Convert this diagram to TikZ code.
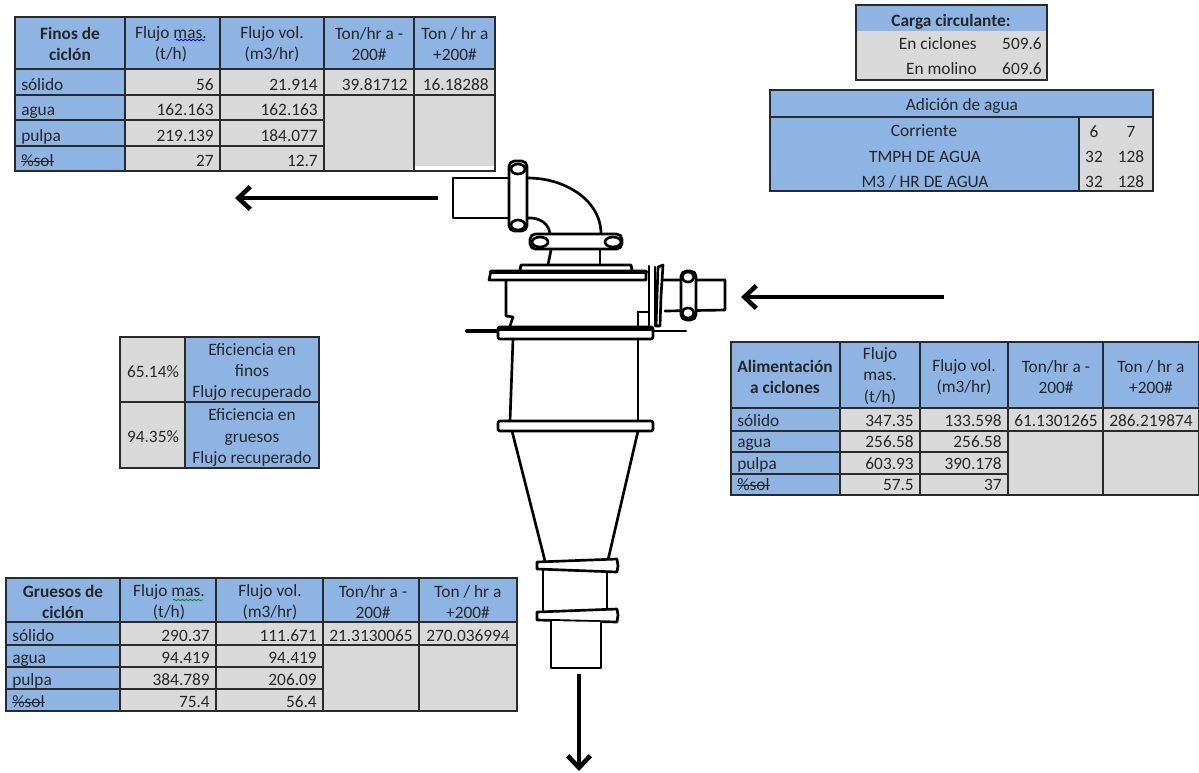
\documentclass[tikz,border=0pt]{standalone}
\usepackage{fontspec}
\setmainfont{Carlito}
\usetikzlibrary{arrows.meta,decorations.pathmorphing}
\definecolor{bl}{HTML}{8DB4E2}
\definecolor{gr}{HTML}{D9D9D9}
\definecolor{ln}{HTML}{2A2A2A}
\definecolor{tx}{HTML}{262626}
\newcommand\bxb[4]{\path[cellb] (#1,#3) rectangle (#2,#4);}
\newcommand\bxg[4]{\path[cellg] (#1,#3) rectangle (#2,#4);}
\newcommand\tr[4]{\node[txt,anchor=base east] (#1) at ({#2-6},{#3-4.5}) {#4};}
\newcommand\tl[4]{\node[txt,anchor=base west] (#1) at ({#2+6},{#3-4.5}) {#4};}
\newcommand\tc[4]{\node[txt,align=center] (#1) at (#2,#3) {#4};}
\newcommand\tb[4]{\node[txt,anchor=base] (#1) at (#2,{#3-4.5}) {#4};}
\newcommand\strk[1]{\setbox0=\hbox{#1}\rlap{\rule[0.24em]{\wd0}{0.7pt}}\box0}
\tikzset{
  x=0.75pt,y=-0.75pt,
  cellb/.style={fill=bl,draw=ln,line width=1.1pt},
  cellg/.style={fill=gr,draw=ln,line width=1.1pt},
  txt/.style={inner sep=0pt,text=tx,font=\fontsize{13pt}{16pt}\selectfont},
  mach/.style={draw=black,line width=2pt,line join=round,line cap=round,fill=white},
  machl/.style={draw=black,line width=2pt,line join=round,line cap=round},
  flow/.style={draw=black,line width=3.4pt,-{Straight Barb[length=9pt,width=17pt,line width=3.4pt]}},
  squig/.style={line width=0.6pt,decorate,decoration={snake,amplitude=0.6pt,segment length=3pt}}
}
\begin{document}
\begin{tikzpicture}
\useasboundingbox (0,0) rectangle (1199,772);
% --- Finos de ciclon
\bxb{15}{125}{17}{69}\bxb{125}{220}{17}{69}\bxb{220}{324}{17}{69}\bxb{324}{414}{17}{69}\bxb{414}{495}{17}{69}
\bxb{15}{125}{69}{95}\bxb{15}{125}{95}{120}\bxb{15}{125}{120}{146}\bxb{15}{125}{146}{171}
\bxg{125}{220}{69}{95}\bxg{220}{324}{69}{95}\bxg{324}{414}{69}{95}\bxg{414}{495}{69}{95}
\bxg{125}{220}{95}{120}\bxg{220}{324}{95}{120}\bxg{125}{220}{120}{146}\bxg{220}{324}{120}{146}
\bxg{125}{220}{146}{171}\bxg{220}{324}{146}{171}\bxg{324}{414}{95}{171}\bxg{414}{495}{95}{171}
\fill[white] (415,166) rectangle (494.3,170.3);
\tc{fh0}{70}{44}{\textbf{Finos de}\\\textbf{ciclón}}
\tc{fh1}{171}{44}{Flujo mas.\\(t/h)}
\tc{fh2}{272}{44}{Flujo vol.\\(m3/hr)}
\tc{fh3}{369}{44}{Ton/hr a -\\200\#}
\tc{fh4}{455}{44}{Ton / hr a\\+200\#}
\tl{fa}{15}{95}{sólido}\tl{fb}{15}{120}{agua}\tl{fc}{15}{146}{pulpa}\tl{fd}{15}{171}{\strk{\%sol}}
\tr{fa1}{220}{95}{56}\tr{fa2}{324}{95}{21.914}\tr{fa3}{414}{95}{39.81712}\tr{fa4}{495}{95}{16.18288}
\tr{fb1}{220}{120}{162.163}\tr{fb2}{324}{120}{162.163}
\tr{fc1}{220}{146}{219.139}\tr{fc2}{324}{146}{184.077}
\tr{fd1}{220}{171}{27}\tr{fd2}{324}{171}{12.7}
\draw[squig,draw=blue!70!black] (176,40) -- (205,40);
% --- Carga circulante
\path[fill=gr] (856,31) rectangle (1047,80);
\path[fill=bl] (856,5) rectangle (1047,31);
\draw[ln,line width=1.1pt] (856,5) rectangle (1047,80);
\tb{ca}{951}{31}{\textbf{Carga circulante:}}
\node[txt,anchor=base east] (cb) at (977,49) {En ciclones};
\node[txt,anchor=base east] (cc) at (977,74) {En molino};
\node[txt,anchor=base east] (cb1) at (1042,49) {509.6};
\node[txt,anchor=base east] (cc1) at (1042,74) {609.6};
% --- Adicion de agua
\bxb{770}{1153}{90}{117}
\bxb{770}{1079}{117}{191}
\bxg{1079}{1153}{117}{191}
\tb{aa}{962}{115}{Adición de agua}
\node[txt,anchor=base] (ab) at (924,136) {Corriente};
\node[txt,anchor=base] (ac) at (925,162) {TMPH DE AGUA};
\node[txt,anchor=base] (ad) at (925,187) {M3 / HR DE AGUA};
\node[txt,anchor=base] (ab1) at (1094,137) {6};
\node[txt,anchor=base] (ab2) at (1131,137) {7};
\node[txt,anchor=base] (ac1) at (1094,162) {32};
\node[txt,anchor=base] (ac2) at (1131,162) {128};
\node[txt,anchor=base] (ad1) at (1094,187) {32};
\node[txt,anchor=base] (ad2) at (1131,187) {128};
% --- Alimentacion a ciclones
\bxb{731}{840}{342}{408}\bxb{840}{920}{342}{408}\bxb{920}{1008}{342}{408}\bxb{1008}{1103}{342}{408}\bxb{1103}{1199}{342}{408}
\bxb{731}{840}{408}{431}\bxb{731}{840}{431}{452}\bxb{731}{840}{452}{474}\bxb{731}{840}{474}{495}
\bxg{840}{920}{408}{431}\bxg{920}{1008}{408}{431}\bxg{1008}{1103}{408}{431}\bxg{1103}{1199}{408}{431}
\bxg{840}{920}{431}{452}\bxg{920}{1008}{431}{452}\bxg{840}{920}{452}{474}\bxg{920}{1008}{452}{474}
\bxg{840}{920}{474}{495}\bxg{920}{1008}{474}{495}\bxg{1008}{1103}{431}{495}\bxg{1103}{1199}{431}{495}
\tc{ih0}{785}{377}{\textbf{Alimentación}\\\textbf{a ciclones}}
\tc{ih1}{880}{376}{Flujo\\mas.\\(t/h)}
\tc{ih2}{964}{377.5}{Flujo vol.\\(m3/hr)}
\tc{ih3}{1056}{377}{Ton/hr a -\\200\#}
\tc{ih4}{1151}{377}{Ton / hr a\\+200\#}
\tl{ia}{731}{431}{sólido}\tl{ib}{731}{452}{agua}\tl{ic}{731}{474}{pulpa}\tl{id}{731}{495}{\strk{\%sol}}
\tr{ia1}{920}{431}{347.35}\tr{ia2}{1008}{431}{133.598}\tb{ia3}{1056}{431}{61.1301265}\tb{ia4}{1151}{431}{286.219874}
\tr{ib1}{920}{452}{256.58}\tr{ib2}{1008}{452}{256.58}
\tr{ic1}{920}{474}{603.93}\tr{ic2}{1008}{474}{390.178}
\tr{id1}{920}{495}{57.5}\tr{id2}{1008}{495}{37}
% --- Gruesos de ciclon
\bxb{6}{120}{578}{622}\bxb{120}{216}{578}{622}\bxb{216}{323}{578}{622}\bxb{323}{419}{578}{622}\bxb{419}{517}{578}{622}
\bxb{6}{120}{622}{645}\bxb{6}{120}{645}{667}\bxb{6}{120}{667}{689}\bxb{6}{120}{689}{711}
\bxg{120}{216}{622}{645}\bxg{216}{323}{622}{645}\bxg{323}{419}{622}{645}\bxg{419}{517}{622}{645}
\bxg{120}{216}{645}{667}\bxg{216}{323}{645}{667}\bxg{120}{216}{667}{689}\bxg{216}{323}{667}{689}
\bxg{120}{216}{689}{711}\bxg{216}{323}{689}{711}\bxg{323}{419}{645}{711}\bxg{419}{517}{645}{711}
\tc{gh0}{63}{602}{\textbf{Gruesos de}\\\textbf{ciclón}}
\tc{gh1}{169}{602}{Flujo mas.\\(t/h)}
\tc{gh2}{270}{602}{Flujo vol.\\(m3/hr)}
\tc{gh3}{373}{602}{Ton/hr a -\\200\#}
\tc{gh4}{468}{602}{Ton / hr a\\+200\#}
\tl{ga}{6}{645.5}{sólido}\tl{gb}{6}{667.5}{agua}\tl{gc}{6}{689.5}{pulpa}\tl{gd}{6}{711.5}{\strk{\%sol}}
\tr{ga1}{216}{645.5}{290.37}\tr{ga2}{323}{645.5}{111.671}\tb{ga3}{371}{645.5}{21.3130065}\tb{ga4}{468}{645.5}{270.036994}
\tr{gb1}{216}{667.5}{94.419}\tr{gb2}{323}{667.5}{94.419}
\tr{gc1}{216}{689.5}{384.789}\tr{gc2}{323}{689.5}{206.09}
\tr{gd1}{216}{711.5}{75.4}\tr{gd2}{323}{711.5}{56.4}
\draw[squig,draw=green!55!black] (173,600) -- (203,600);
% --- Eficiencias
\bxg{120}{185}{337}{402}\bxb{185}{319}{337}{402}
\bxg{120}{185}{402}{468}\bxb{185}{319}{402}{468}
\tc{e1}{153}{372}{65.14\%}
\tc{e2}{153}{437}{94.35\%}
\tc{e1t}{252}{372}{Eficiencia en\\finos\\Flujo recuperado}
\tc{e2t}{252}{437.5}{Eficiencia en\\gruesos\\Flujo recuperado}
% --- Cyclone: outlet and elbow
\path[machl] (527,178) .. controls (550,178) and (566,185) .. (578,193) .. controls (592,203) and (601,217) .. (601,234);
\path[machl] (527,218) .. controls (540,217) and (549,224) .. (550,234);
\path[mach] (508,178) -- (453,178) -- (453,218) -- (508,218);
\path[mach,rounded corners=4pt] (509,161) rectangle (527,231);
\path[mach] (518,169) ellipse (7 and 5);
\path[mach] (518,225) ellipse (7 and 5);
\path[mach,rounded corners=4pt] (530,234) rectangle (622,249);
\path[mach] (540,242) ellipse (8 and 5);
\path[mach] (613,242) ellipse (8 and 5);
\path[machl] (551,250) -- (548,265);
\path[machl] (600,250) -- (600,265);
\path[mach] (520,270) -- (521,265) -- (631,265) -- (632,270);
% upper body
\path[machl] (506,280) -- (506,316) -- (513,317) -- (510,326);
\path[machl] (638,312) -- (638,326);
\path[machl] (638,312) -- (648,312);
\path[mach] (491,271) -- (646,271) -- (646,280) -- (489,280) -- cycle;
\path[machl,line width=3pt] (491,272) -- (646,272);
% inlet
\path[machl] (663,280) -- (725,280) -- (725,310) -- (665,311);
\path[machl] (649,266) -- (649,326);
\path[machl] (655,267) -- (655,326);
\path[mach] (658,267) -- (663,265) -- (661,296) -- (660,326) -- (656,326) -- cycle;
\path[mach,rounded corners=4pt] (681,271) rectangle (696,320);
\path[mach] (688,277) ellipse (6 and 5);
\path[mach] (688,313) ellipse (6 and 5);
% lower flange
\path[machl,line width=3pt] (467,331) -- (498,331);
\path[machl,line width=1.5pt] (653,331) -- (686,331);
\path[mach,rounded corners=1.5pt] (498,327) rectangle (653,339);
\path[machl,line width=3pt] (499,329) -- (652,329);
% lower body
\path[machl] (513,339) -- (510,421);
\path[machl] (638,339) -- (638,421);
\path[mach,rounded corners=1.5pt] (498,421) rectangle (653,431);
\path[machl] (512,431) -- (545,561);
\path[machl] (638,431) -- (608,560);
\path[mach] (537,562) -- (617,559) -- (618,566) -- (617,572) -- (537,569) -- cycle;
\path[machl] (543,570) -- (543,611);
\path[machl] (607,572) -- (607,609);
\path[mach] (537,612) -- (617,609) -- (618,615) -- (617,622) -- (537,620) -- cycle;
\path[mach] (551,621) -- (551,668) -- (601,668) -- (601,622);
% --- Flow arrows
\coordinate (outA) at (438,198);\coordinate (outB) at (235,198);
\coordinate (inA) at (944,297);\coordinate (inB) at (741,297);
\coordinate (dnA) at (579,674);\coordinate (dnB) at (579,771);
\draw[flow] (outA) -- (outB);
\draw[flow] (inA) -- (inB);
\draw[flow] (dnA) -- (dnB);
\end{tikzpicture}
\end{document}
